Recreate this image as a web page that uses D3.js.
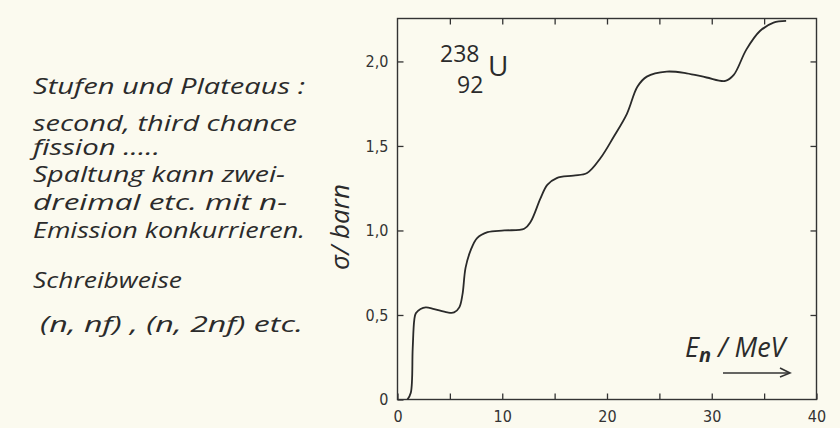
<!DOCTYPE html>
<meta charset="utf-8">
<style>
body { margin: 0; background: #fbfaef; }
svg { display: block; }
.hand { font-family: "Open Sans", "DejaVu Sans", sans-serif; font-style: italic; fill: #2b2b2b; }
.frame { fill: none; stroke: #333; stroke-width: 1.4; }
.curve { fill: none; stroke: #2a2a2a; stroke-width: 1.8; }
</style>
<body>
<div id="chart"></div>
</body>
<script src="https://cdn.jsdelivr.net/npm/d3@7"></script>
<script>

// neutron energy (MeV) and fission cross section (barn)
var energy = [0.95, 1.27, 1.45, 1.6, 1.75, 2.2, 2.7, 3.5, 4.76, 5.4, 5.9, 6.2, 6.5, 7.0, 7.6, 8.6, 10.2, 12.1,
              12.7, 13.65, 14.3, 15.2, 16.8, 18.1, 19.4, 20.6, 21.9, 22.9, 23.8, 25.7, 27.6, 29.5, 31.3,
              32.1, 33.3, 34.6, 35.9, 37.1];
var sigma  = [0, 0.04, 0.3, 0.47, 0.51, 0.535, 0.545, 0.535, 0.515, 0.515, 0.545, 0.62, 0.78, 0.885, 0.955, 0.99, 1.0, 1.01,
              1.05, 1.19, 1.27, 1.31, 1.325, 1.34, 1.43, 1.55, 1.69, 1.85, 1.91, 1.94, 1.93, 1.905, 1.885,
              1.92, 2.07, 2.18, 2.23, 2.24];

var xTicks = [0, 5, 10, 15, 20, 25, 30, 35, 40];
var xLabels = [0, 10, 20, 30, 40];
var yTicks = [0, 0.5, 1.0, 1.5, 2.0];

var notes = ["Stufen und Plateaus :", "second, third chance", "fission .....",
             "Spaltung kann zwei-", "dreimal etc. mit n-", "Emission konkurrieren.",
             "Schreibweise", "(n, nf) , (n, 2nf) etc."];
var noteY = [94, 131, 155, 182, 210, 238, 288, 332];
var noteX = [33, 33, 33, 33, 33, 33, 33, 40];
var noteW = [272, 264, 127, 252, 254, 272, 149, 263];

var W = 840, H = 428;
var pLeft = 397.5, pRight = 816.5, pTop = 18.5, pBottom = 399.5;

var x = d3.scaleLinear().domain([0, 40]).range([pLeft, pRight]);
var y = d3.scaleLinear().domain([0, 2.254]).range([pBottom, pTop]);

var svg = d3.select("#chart").append("svg")
    .attr("width", W)
    .attr("height", H);

svg.append("rect").attr("width", W).attr("height", H).attr("fill", "#fbfaef");

// handwritten notes on the left
svg.selectAll(".note")
    .data(notes)
  .enter().append("text")
    .attr("class", "hand note")
    .attr("x", function(d, i) { return noteX[i]; })
    .attr("y", function(d, i) { return noteY[i]; })
    .attr("textLength", function(d, i) { return noteW[i]; })
    .attr("lengthAdjust", "spacingAndGlyphs")
    .style("font-size", "21px")
    .text(function(d) { return d; });

// axes, all ticks point inward
var fmt = function(d) { return d === 0 ? "0" : d3.format(".1f")(d).replace(".", ","); };

svg.append("g")
    .attr("class", "xaxis")
    .attr("transform", "translate(0," + pBottom + ")")
    .call(d3.axisBottom(x).tickValues(xTicks).tickSize(-6).tickPadding(11)
      .tickFormat(function(d) { return xLabels.indexOf(d) >= 0 ? d : ""; }));

svg.append("g")
    .attr("transform", "translate(0," + pTop + ")")
    .call(d3.axisTop(x).tickValues(xTicks.slice(1, -1)).tickSize(-6).tickFormat(""));

svg.append("g")
    .attr("class", "yaxis")
    .attr("transform", "translate(" + pLeft + ",0)")
    .call(d3.axisLeft(y).tickValues(yTicks).tickSize(-6).tickPadding(9).tickFormat(fmt));

svg.append("g")
    .attr("transform", "translate(" + pRight + ",0)")
    .call(d3.axisRight(y).tickValues(yTicks.slice(1)).tickSize(-6).tickFormat(""));

svg.selectAll(".domain").remove();
svg.selectAll(".tick line").attr("stroke", "#333").attr("stroke-width", 1.3);
svg.selectAll(".tick text")
    .attr("fill", "#333")
    .style("font-family", "'Liberation Sans Narrow', 'DejaVu Sans Condensed', sans-serif")
    .style("font-size", "16px");

svg.append("rect")
    .attr("class", "frame")
    .attr("x", pLeft).attr("y", pTop)
    .attr("width", pRight - pLeft).attr("height", pBottom - pTop);

// the curve
var pts = energy.map(function(e, i) { return [e, sigma[i]]; });
svg.append("path")
    .datum(pts)
    .attr("class", "curve")
    .attr("d", d3.line()
      .x(function(d) { return x(d[0]); })
      .y(function(d) { return y(d[1]); })
      .curve(d3.curveCatmullRom.alpha(0.5)));

// y label
svg.append("text")
    .attr("class", "hand")
    .attr("transform", "translate(349,227) rotate(-90)")
    .attr("text-anchor", "middle")
    .style("font-size", "26px")
    .text("σ/ barn");

// nucleus label
var nuc = svg.append("g").attr("class", "hand").style("font-style", "normal");
nuc.append("text").attr("x", 440).attr("y", 62).style("font-size", "23px").text("238");
nuc.append("text").attr("x", 457).attr("y", 93).style("font-size", "23px").text("92");
nuc.append("text").attr("x", 488).attr("y", 76).style("font-size", "28px").text("U");

// energy label and arrow
var el = svg.append("text").attr("class", "hand").attr("x", 685).attr("y", 357).style("font-size", "27px");
el.append("tspan").text("E");
el.append("tspan").attr("dy", 5).style("font-size", "20px").style("font-weight", "bold").text("n");
el.append("tspan").attr("dy", -5).text(" / MeV");

svg.append("line")
    .attr("x1", 723).attr("x2", 789).attr("y1", 373).attr("y2", 373)
    .attr("stroke", "#333").attr("stroke-width", 1.6);
svg.append("path")
    .attr("d", "M780,368 L790,373 L780,377")
    .attr("fill", "none").attr("stroke", "#333").attr("stroke-width", 1.6);

</script>
